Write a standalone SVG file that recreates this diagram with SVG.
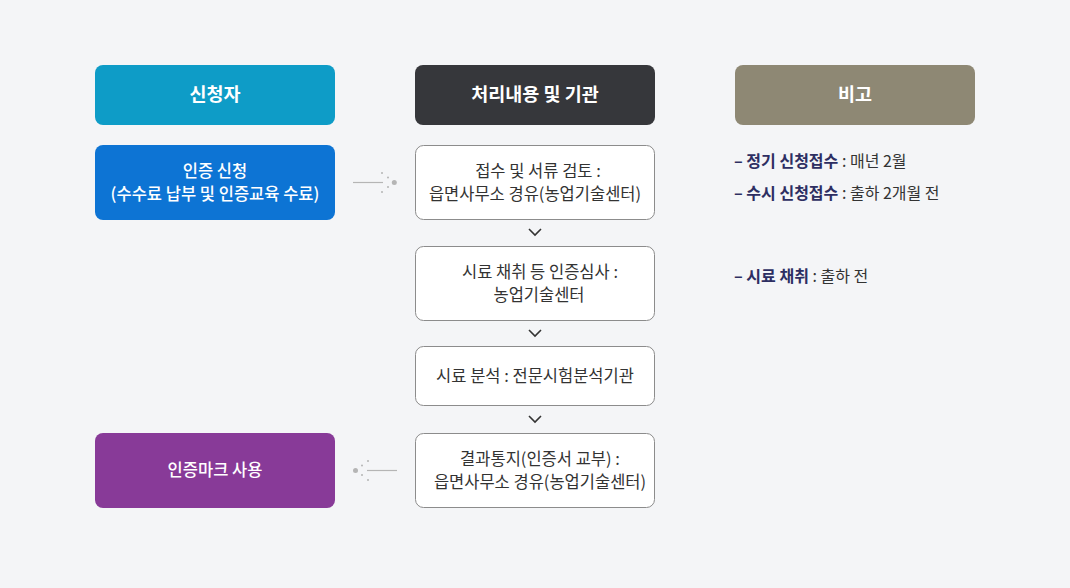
<svg xmlns="http://www.w3.org/2000/svg" width="1070" height="588" viewBox="0 0 1070 588">
<style>
text{font-family:"Noto Sans CJK KR","Noto Sans",sans-serif;}
.hd{font-size:18.5px;font-weight:700;fill:#fff;text-anchor:middle;}
.wt{font-size:16.5px;font-weight:500;fill:#fff;text-anchor:middle;}
.bx{fill:#fff;stroke:#8c8c8c;stroke-width:1;}
.bt{font-size:16.5px;fill:#333;text-anchor:middle;}
.nt{font-size:16px;fill:#333;}
.nb{font-weight:700;fill:#2d2e62;}
.chev{fill:none;stroke:#333;stroke-width:1.6;}
.ln{stroke:#b5b5b5;stroke-width:1.2;}
.dt{fill:#b5b5b5;}
</style>
<rect width="1070" height="588" fill="#f4f5f7"/>
<g id="h-applicant"><rect x="95" y="65" width="240" height="60" rx="8" fill="#0e9cc7"/><text class="hd" x="215" y="101">신청자</text></g>
<g id="h-process"><rect x="415" y="65" width="240" height="60" rx="8" fill="#36373b"/><text class="hd" x="535" y="101">처리내용 및 기관</text></g>
<g id="h-note"><rect x="735" y="65" width="240" height="60" rx="8" fill="#8e8874"/><text class="hd" x="855" y="101">비고</text></g>
<g id="apply"><rect x="95" y="145" width="240" height="75" rx="8" fill="#0d74d4"/><text class="wt" x="215" y="177">인증 신청</text><text class="wt" x="215" y="200">(수수료 납부 및 인증교육 수료)</text></g>
<g id="mark"><rect x="95" y="433" width="240" height="75" rx="8" fill="#883a98"/><text class="wt" x="215" y="476">인증마크 사용</text></g>
<g id="p1"><rect class="bx" x="415.5" y="145.5" width="239" height="74" rx="8"/><text class="bt" x="538" y="177">접수 및 서류 검토 :</text><text class="bt" x="535" y="200">읍면사무소 경유(농업기술센터)</text></g>
<g id="p2"><rect class="bx" x="415.5" y="246.5" width="239" height="74" rx="8"/><text class="bt" x="540" y="278">시료 채취 등 인증심사 :</text><text class="bt" x="539" y="301">농업기술센터</text></g>
<g id="p3"><rect class="bx" x="415.5" y="346.5" width="239" height="59" rx="8"/><text class="bt" x="535" y="382">시료 분석 : 전문시험분석기관</text></g>
<g id="p4"><rect class="bx" x="415.5" y="433.5" width="239" height="74" rx="8"/><text class="bt" x="540" y="465">결과통지(인증서 교부) :</text><text class="bt" x="540" y="488">읍면사무소 경유(농업기술센터)</text></g>
<g id="notes">
<text class="nt" x="734" y="167"><tspan class="nb">– 정기 신청접수</tspan> : 매년 2월</text>
<text class="nt" x="734" y="199"><tspan class="nb">– 수시 신청접수</tspan> : 출하 2개월 전</text>
<text class="nt" x="734" y="282"><tspan class="nb">– 시료 채취</tspan> : 출하 전</text>
</g>
<g id="connectors">
<line class="ln" x1="353" y1="182.5" x2="383" y2="182.5"/>
<circle class="dt" cx="382" cy="173" r="1"/><circle class="dt" cx="388" cy="177.5" r="1"/><circle class="dt" cx="388" cy="187" r="1"/><circle class="dt" cx="382" cy="192" r="1"/><circle class="dt" cx="394.3" cy="182.5" r="2.5"/>
<line class="ln" x1="367" y1="470.5" x2="397" y2="470.5"/>
<circle class="dt" cx="368" cy="461" r="1"/><circle class="dt" cx="362" cy="465.5" r="1"/><circle class="dt" cx="362" cy="475" r="1"/><circle class="dt" cx="368" cy="480" r="1"/><circle class="dt" cx="355.5" cy="470.5" r="2.5"/>
<polyline class="chev" points="529,229 535,235 541,229"/>
<polyline class="chev" points="529,330 535,336 541,330"/>
<polyline class="chev" points="529,416 535,422 541,416"/>
</g>
</svg>
